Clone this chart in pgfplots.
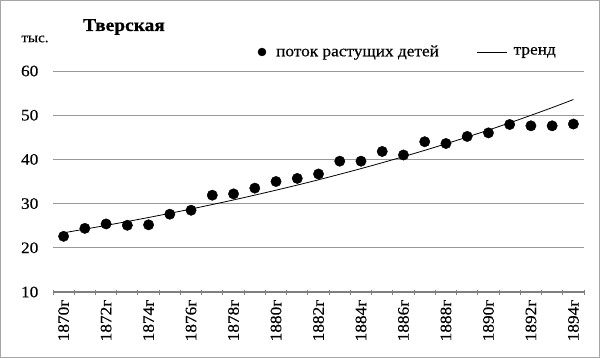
\documentclass[border=0pt]{standalone}
\usepackage{fontspec}
\setmainfont[FakeStretch=1.08, FakeBold=0.4]{Liberation Serif}
\usepackage{pgfplots}
\pgfplotsset{compat=1.18}
\pgfplotsset{
  legmark/.style={legend image code/.code={\draw[##1, mark size=4bp] plot coordinates {(0bp,0bp)}; \path (12bp,0bp);}},
  legline/.style={legend image code/.code={\draw[##1] (0bp,0bp) -- (30bp,0bp); \path (34bp,0bp);}},
}
\begin{document}
\fontsize{16bp}{19bp}\selectfont
\begin{tikzpicture}[x=1bp,y=1bp]
\useasboundingbox (0,0) rectangle (600,358);
\draw[gray!70, line width=1bp] (0.5,0.5) rectangle (599.5,357.5);
\node[font=\fontsize{18bp}{21bp}\selectfont\bfseries] at (124,331) {Тверская};
\node[font=\fontsize{14bp}{16bp}\selectfont] at (35,319) {тыс.};
\begin{axis}[at={(53bp,66bp)}, anchor=south west, scale only axis,
  width=531bp, height=221bp,
  xmin=1869.5, xmax=1894.5, ymin=10, ymax=60,
  ytick={10,20,...,60},
  xtick={1870,1872,...,1894},
  xticklabels={1870г,1872г,1874г,1876г,1878г,1880г,1882г,1884г,1886г,1888г,1890г,1892г,1894г},
  minor xtick={1869.5,1870.5,...,1894.5},
  major x tick style={draw=none},
  minor x tick style={gray, line width=1bp},
  minor tick length=5bp,
  tick align=center,
  axis x line=bottom,
  axis y line=left,
  x axis line style={-, gray, line width=2bp},
  y axis line style={draw=none},
  y tick style={draw=none},
  ymajorgrids, grid style={gray!80, line width=0.8bp},
  x tick label style={rotate=90, anchor=east, font=\fontsize{16bp}{19bp}\selectfont},
  y tick label style={font=\fontsize{16bp}{19bp}\selectfont, xshift=-7bp},
  /pgf/number format/assume math mode=true,
  legend style={at={(0.380,1.086)}, anchor=west, draw=none, fill=none,
    font=\fontsize{16bp}{19bp}\selectfont, legend columns=2,
    /tikz/every even column/.append style={column sep=36bp}},
  clip=false,
]
\addplot[only marks, mark=*, mark size=5.2bp, black, legmark] coordinates {
(1870,22.6) (1871,24.4) (1872,25.4) (1873,25.1) (1874,25.2) (1875,27.6)
(1876,28.5) (1877,31.9) (1878,32.2) (1879,33.5) (1880,35.0) (1881,35.7)
(1882,36.7) (1883,39.6) (1884,39.6) (1885,41.8) (1886,41.0) (1887,44.0)
(1888,43.6) (1889,45.2) (1890,46.0) (1891,47.9) (1892,47.6) (1893,47.6)
(1894,48.0)};
\addlegendentry{поток растущих детей}
\addplot[black, line width=0.8bp, smooth, no marks, legline] coordinates {
(1870,23.40) (1871,24.22) (1872,25.07) (1873,25.95) (1874,26.86) (1875,27.80)
(1876,28.78) (1877,29.79) (1878,30.83) (1879,31.92) (1880,33.04) (1881,34.19)
(1882,35.39) (1883,36.64) (1884,37.92) (1885,39.25) (1886,40.63) (1887,42.05)
(1888,43.53) (1889,45.06) (1890,46.64) (1891,48.27) (1892,49.97) (1893,51.72)
(1894,53.54)};
\addlegendentry{тренд}
\end{axis}
\end{tikzpicture}
\end{document}
